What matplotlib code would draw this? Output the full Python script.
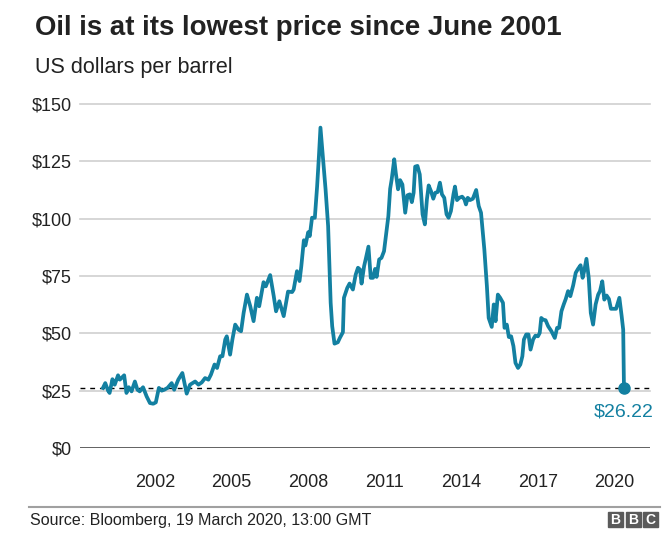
import matplotlib
matplotlib.use("Agg")
import matplotlib.pyplot as plt
from matplotlib.patches import Rectangle
from matplotlib.lines import Line2D
from matplotlib.transforms import ScaledTranslation

plt.rcParams['font.family'] = ['Liberation Sans', 'DejaVu Sans']

# Brent crude, US$ per barrel, x as decimal years
years = [
    1999.80, 1999.89, 2000.00, 2000.06, 2000.17, 2000.26, 2000.39, 2000.46, 2000.63, 2000.72,
    2000.81, 2000.92, 2001.05, 2001.15, 2001.24, 2001.37, 2001.51, 2001.64, 2001.77, 2001.87,
    2001.99, 2002.10, 2002.20, 2002.33, 2002.49, 2002.59, 2002.75, 2002.91, 2003.08, 2003.21,
    2003.41, 2003.54, 2003.67, 2003.80, 2003.93, 2004.03, 2004.17, 2004.27, 2004.39, 2004.48,
    2004.59, 2004.65, 2004.78, 2004.87, 2004.98, 2005.11, 2005.21, 2005.31, 2005.44, 2005.57,
    2005.70, 2005.83, 2005.92, 2006.09, 2006.18, 2006.35, 2006.49, 2006.58, 2006.71, 2006.88,
    2007.05, 2007.21, 2007.27, 2007.40, 2007.50, 2007.57, 2007.67, 2007.73, 2007.84, 2007.90,
    2007.99, 2008.10, 2008.19, 2008.26, 2008.32, 2008.39, 2008.52, 2008.62, 2008.72, 2008.78,
    2008.87, 2009.00, 2009.08, 2009.20, 2009.24, 2009.37, 2009.46, 2009.59, 2009.70, 2009.79,
    2009.87, 2009.93, 2010.03, 2010.09, 2010.20, 2010.29, 2010.38, 2010.46, 2010.52, 2010.62,
    2010.71, 2010.81, 2010.90, 2010.98, 2011.05, 2011.11, 2011.21, 2011.27, 2011.36, 2011.44,
    2011.53, 2011.64, 2011.73, 2011.82, 2011.90, 2011.97, 2012.03, 2012.12, 2012.21, 2012.32,
    2012.41, 2012.49, 2012.56, 2012.65, 2012.74, 2012.82, 2012.91, 2013.00, 2013.08, 2013.17,
    2013.26, 2013.34, 2013.43, 2013.53, 2013.59, 2013.67, 2013.76, 2013.87, 2013.96, 2014.02,
    2014.09, 2014.18, 2014.29, 2014.42, 2014.52, 2014.61, 2014.74, 2014.84, 2014.91, 2015.03,
    2015.11, 2015.18, 2015.27, 2015.36, 2015.47, 2015.53, 2015.62, 2015.70, 2015.79, 2015.88,
    2015.96, 2016.06, 2016.15, 2016.23, 2016.29, 2016.38, 2016.47, 2016.55, 2016.65, 2016.74,
    2016.84, 2016.91, 2016.97, 2017.04, 2017.14, 2017.24, 2017.37, 2017.50, 2017.59, 2017.67,
    2017.76, 2017.85, 2017.93, 2018.02, 2018.11, 2018.22, 2018.32, 2018.41, 2018.51, 2018.59,
    2018.65, 2018.74, 2018.83, 2018.91, 2019.00, 2019.10, 2019.20, 2019.27, 2019.36, 2019.44,
    2019.53, 2019.62, 2019.70, 2019.79, 2019.90, 2020.03, 2020.12, 2020.18, 2020.21,
]
prices = [
    26.2, 28.3, 25.0, 24.0, 30.0, 27.6, 31.7, 29.8, 31.7, 24.0,
    26.5, 24.7, 29.0, 25.4, 24.7, 26.5, 22.5, 19.6, 19.3, 19.9,
    26.2, 25.0, 25.4, 26.2, 28.3, 25.4, 29.8, 32.7, 23.7, 27.6,
    29.0, 27.6, 28.6, 30.5, 29.8, 32.0, 36.4, 34.9, 40.0, 40.0,
    47.3, 48.7, 40.7, 47.3, 53.8, 51.6, 50.9, 58.9, 66.9, 61.8,
    55.3, 65.5, 61.8, 72.3, 70.5, 75.4, 66.2, 59.6, 64.0, 57.5,
    68.2, 68.0, 69.1, 77.1, 72.8, 79.3, 90.6, 88.3, 94.1, 92.4,
    100.4, 100.4, 114.2, 127.3, 139.7, 130.2, 112.8, 96.8, 63.3, 53.1,
    45.5, 46.1, 48.0, 50.5, 65.5, 69.8, 71.7, 69.1, 75.6, 78.6,
    77.8, 71.7, 79.3, 82.2, 87.8, 74.2, 74.2, 78.1, 74.6, 82.2,
    82.9, 85.8, 93.8, 101.1, 113.0, 117.1, 125.9, 120.0, 112.8, 116.8,
    114.9, 102.6, 110.2, 110.6, 107.2, 111.3, 122.7, 123.0, 119.3, 101.9,
    97.5, 108.4, 114.5, 112.0, 108.7, 111.3, 111.6, 115.7, 110.6, 109.1,
    101.9, 100.4, 103.3, 110.6, 114.0, 108.1, 109.1, 109.6, 108.4, 106.2,
    109.1, 108.1, 108.7, 112.5, 105.5, 102.6, 86.6, 70.6, 56.7, 52.8,
    62.6, 55.3, 66.9, 65.5, 63.3, 52.4, 53.8, 48.4, 48.7, 44.4,
    37.1, 34.9, 36.4, 40.0, 47.3, 49.5, 49.5, 42.9, 47.3, 49.0,
    48.7, 50.2, 56.7, 56.0, 55.7, 53.1, 50.9, 48.0, 52.4, 52.4,
    59.6, 62.6, 65.0, 68.4, 66.2, 70.9, 76.4, 78.1, 79.7, 74.2,
    77.1, 82.5, 74.2, 58.9, 53.8, 62.6, 66.9, 68.4, 72.7, 64.7,
    66.5, 65.0, 60.7, 60.7, 60.7, 65.5, 57.5, 51.6, 26.22,
]
tick_years = [2002, 2005, 2008, 2011, 2014, 2017, 2020]
y_ticks = [0, 25, 50, 75, 100, 125, 150]
latest = prices[-1]

TEAL = '#1380A1'
DARK = '#222222'

fig = plt.figure(figsize=(6.72, 5.35), dpi=100)
ax = fig.add_axes([80 / 672, 1 - 448 / 535, 570 / 672, 344 / 535])

for v in y_ticks[1:]:
    ax.axhline(v, color='#d0d0d0', lw=1.2, zorder=1, clip_on=False)
ax.axhline(0, color='#333333', lw=1.8, zorder=2)
ax.axhline(latest, color='black', lw=1.0, ls=(0, (3.5, 3.5)), zorder=3)

ax.plot(years, prices, color=TEAL, lw=2.7, solid_joinstyle='round', zorder=4)
ax.plot(years[-1], latest, 'o', color=TEAL, ms=8, zorder=5, clip_on=False)
ax.annotate(f'${latest:.2f}', (years[-1], latest), xytext=(0, -17.5),
            textcoords='offset points', ha='center', va='center',
            color=TEAL, fontsize=14)

ax.set_xlim(1998.9, 2021.23)
ax.set_ylim(0, 150)
ax.set_xticks(tick_years)
ax.set_xticklabels([str(y) for y in tick_years])
ax.set_yticks(y_ticks)
ax.set_yticklabels([f'${v}' for v in y_ticks])
ax.tick_params(length=0, labelsize=13, colors=DARK)
ax.tick_params(axis='y', pad=6)
ax.tick_params(axis='x', pad=19)
# year labels sit a touch left of the Jan 1 positions in the original
shift = ScaledTranslation(-4 / 100, 0, fig.dpi_scale_trans)
for lab in ax.get_xticklabels():
    lab.set_transform(lab.get_transform() + shift)
for s in ax.spines.values():
    s.set_visible(False)

fig.text(35 / 672, 1 - 28 / 535, 'Oil is at its lowest price since June 2001',
         fontsize=19.9, fontweight='bold', color=DARK, va='center')
fig.text(35 / 672, 1 - 68 / 535, 'US dollars per barrel',
         fontsize=15.5, color=DARK, va='center')

fig.add_artist(Line2D([29 / 672, 660 / 672], [1 - 507 / 535] * 2,
                      color='#a0a0a0', lw=1.5))
fig.text(30 / 672, 1 - 520 / 535, 'Source: Bloomberg, 19 March 2020, 13:00 GMT',
         fontsize=11.5, color=DARK, va='center')

# BBC blocks
for i, letter in enumerate('BBC'):
    x0 = (608 + i * 17.5) / 672
    fig.add_artist(Rectangle((x0, 1 - 527 / 535), 15 / 672, 15 / 535,
                             color='#5a5a5a', transform=fig.transFigure))
    fig.text(x0 + 7.5 / 672, 1 - 519.5 / 535, letter, color='white',
             fontsize=10, fontweight='bold', ha='center', va='center')

fig.savefig('out.png', dpi=100)
